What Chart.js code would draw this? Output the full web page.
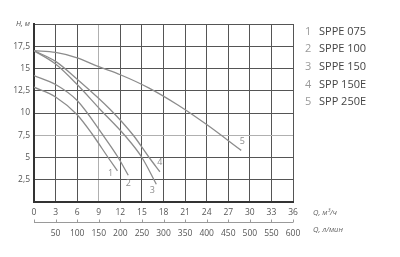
<!DOCTYPE html>
<html>
<head>
<meta charset="utf-8">
<script src="https://cdn.jsdelivr.net/npm/chart.js@4/dist/chart.umd.min.js"></script>
<style>
  html, body { margin: 0; padding: 0; background: #fff; }
  #wrap { width: 400px; height: 257px; }
</style>
</head>
<body>
<div id="wrap"><canvas id="pumpChart" width="400" height="257"></canvas></div>
<script>
// -- Data --
const curveNumbers = ['1', '2', '3', '4', '5'];
const curveNames = ['SPPE 075', 'SPPE 100', 'SPPE 150', 'SPP 150E', 'SPP 250E'];

// flow Q (m3/h) and head H (m)
const q1 = [0, 3, 6, 8.2, 10.3, 11.6];
const h1 = [12.9, 11.8, 9.8, 7.5, 5, 3.5];
const q2 = [0, 3, 6, 9.6, 11.7, 13.1];
const h2 = [14.2, 13.2, 11.4, 7.5, 5, 3.0];
const q3 = [0, 3, 6, 9.2, 12.6, 15, 17];
const h3 = [17, 15.5, 13.2, 10.4, 7.5, 5, 2.0];
const q4 = [0, 3, 6, 10.6, 13.8, 16, 17.5];
const h4 = [17, 15.8, 13.8, 10.4, 7.5, 5, 3.4];
const q5 = [0, 3, 6, 9, 12, 16, 20, 24, 28.8];
const h5 = [17, 16.8, 16.2, 15.2, 14.3, 12.8, 10.9, 8.7, 5.8];

// axis ranges
const qMax = 36;      // m3/h
const qStep = 3;
const lpmMax = 600;   // l/min
const lpmStep = 50;
const hMax = 20;
const hStep = 2.5;

const axisFont = '"Open Sans", sans-serif';
const curveColor = '#8c8c8c';

function toPoints(qs, hs) {
    return qs.map((q, i) => ({ x: q, y: hs[i] }));
}

const seriesQ = [q1, q2, q3, q4, q5];
const seriesH = [h1, h2, h3, h4, h5];

// -- Extra drawing: second flow axis, unit labels, curve numbers, legend --
const decorPlugin = {
    id: 'decor',
    afterDraw(chart) {
        const ctx = chart.ctx;
        const x2 = chart.scales.x2;
        const area = chart.chartArea;
        ctx.save();

        // l/min axis line with small upward ticks
        const lineY = 222.5;
        ctx.strokeStyle = '#9a9a9a';
        ctx.lineWidth = 1;
        ctx.beginPath();
        ctx.moveTo(x2.getPixelForValue(0), lineY);
        ctx.lineTo(x2.getPixelForValue(lpmMax), lineY);
        for (let v = 0; v <= lpmMax; v += lpmStep) {
            const px = Math.round(x2.getPixelForValue(v)) + 0.5;
            ctx.moveTo(px, lineY);
            ctx.lineTo(px, lineY - 3);
        }
        ctx.stroke();

        // unit labels
        ctx.fillStyle = '#666';
        ctx.font = 'italic 7.5px ' + axisFont;
        ctx.textAlign = 'left';
        ctx.textBaseline = 'middle';
        ctx.fillText('Q, м³/ч', 313, 212.5);
        ctx.fillText('Q, л/мин', 313, 230);

        // curve numbers near the end of each curve
        const offsets = [[-7, 3], [0, 8], [-4, 6], [0, -9], [1, -9]];
        ctx.fillStyle = '#8c8c8c';
        ctx.font = '9px ' + axisFont;
        ctx.textAlign = 'center';
        chart.data.datasets.forEach((ds, i) => {
            const last = ds.data[ds.data.length - 1];
            const px = chart.scales.x.getPixelForValue(last.x) + offsets[i][0];
            const py = chart.scales.y.getPixelForValue(last.y) + offsets[i][1];
            ctx.fillText(curveNumbers[i], px, py);
        });

        // legend on the right
        ctx.textAlign = 'left';
        ctx.font = '11px ' + axisFont;
        curveNames.forEach((name, i) => {
            const y = 31.5 + i * 17.7;
            ctx.fillStyle = '#9a9a9a';
            ctx.fillText(curveNumbers[i], 305, y);
            ctx.fillStyle = '#444';
            ctx.fillText(name, 319, y);
        });

        ctx.restore();
    }
};

// -- Chart --
const chart = new Chart(document.getElementById('pumpChart').getContext('2d'), {
    type: 'scatter',
    data: {
        datasets: seriesQ.map((qs, i) => ({
            label: curveNames[i],
            data: toPoints(qs, seriesH[i]),
            showLine: true,
            borderColor: curveColor,
            borderWidth: 1.3,
            pointRadius: 0,
            cubicInterpolationMode: 'monotone',
            fill: false
        }))
    },
    options: {
        responsive: false,
        animation: false,
        layout: { padding: { left: 0, right: 107, top: 24, bottom: 0 } },
        plugins: {
            legend: { display: false },
            tooltip: { enabled: false }
        },
        scales: {
            x: {
                type: 'linear',
                position: 'bottom',
                min: 0,
                max: qMax,
                afterFit: s => { s.height = 20; },
                ticks: {
                    stepSize: qStep,
                    padding: 5,
                    color: '#555',
                    font: { family: axisFont, size: 8.5 }
                },
                grid: {
                    drawTicks: false,
                    color: ctx => (ctx.tick && ctx.tick.value === 9) ? '#b0b0b0' : '#555',
                    lineWidth: 1
                },
                border: { color: '#333', width: 2 }
            },
            x2: {
                type: 'linear',
                position: 'bottom',
                min: 0,
                max: lpmMax,
                afterFit: s => { s.height = 35; },
                ticks: {
                    stepSize: lpmStep,
                    padding: 6,
                    color: '#555',
                    font: { family: axisFont, size: 8.5 },
                    callback: v => (v === 0 ? '' : v)
                },
                grid: { display: false, drawTicks: false },
                border: { display: false }
            },
            y: {
                type: 'linear',
                min: 0,
                max: hMax,
                afterFit: s => { s.width = 34; },
                ticks: {
                    stepSize: hStep,
                    padding: 4,
                    color: '#555',
                    font: ctx => (ctx.tick && ctx.tick.value === hMax)
                        ? { family: axisFont, size: 7.5, style: 'italic' }
                        : { family: axisFont, size: 8.5 },
                    callback: v => {
                        if (v === hMax) return 'H, м';
                        if (v === 0) return '';
                        return String(v).replace('.', ',');
                    }
                },
                grid: {
                    drawTicks: false,
                    color: ctx => (ctx.tick && ctx.tick.value === 7.5) ? '#b0b0b0' : '#555',
                    lineWidth: 1
                },
                border: { color: '#333', width: 2 }
            }
        }
    },
    plugins: [decorPlugin]
});
</script>
</body>
</html>
